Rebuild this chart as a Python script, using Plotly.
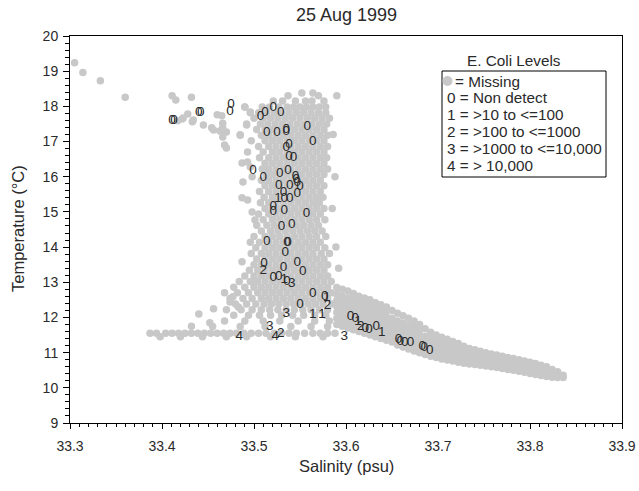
import plotly.graph_objects as go

TITLE = "25 Aug 1999"
X_TITLE = "Salinity (psu)"
Y_TITLE = "Temperature (°C)"
LEGEND_TITLE = "E. Coli Levels"
LEGEND_LINES = ["= Missing", "0 = Non detect", "1 = >10 to <=100", "2 = >100 to <=1000",
                "3 = >1000 to <=10,000", "4 = > 10,000"]
X_TICKS = [33.3, 33.4, 33.5, 33.6, 33.7, 33.8, 33.9]
Y_TICKS = [9, 10, 11, 12, 13, 14, 15, 16, 17, 18, 19, 20]

# "Missing" samples, rows: temperature, salinities (thousandths above 33)
missing_rows = [
    (18.38, "552 564"),
    (18.30, "537 570 590"),
    (18.15, "521 531 545 556 563 576"),
    (17.98, "490 509 517 527 536 543 550 557 564 571 578"),
    (17.82, "496 505 514 522 530 538 546 554 562 570 578"),
    (17.66, "500 510 518 526 534 542 550 558 566 574 582"),
    (17.50, "492 507 515 523 531 539 547 555 563 571 579"),
    (17.34, "503 512 520 528 536 544 552 560 568 576"),
    (17.18, "485 508 516 524 532 540 548 556 564 572 580"),
    (17.02, "497 512 520 528 536 544 552 560 568 576"),
    (16.86, "505 516 524 532 540 548 556 564 572 580"),
    (16.70, "510 520 528 536 544 552 560 568 576"),
    (16.54, "506 516 524 532 540 548 556 564 572 579"),
    (16.38, "512 520 528 536 544 552 560 568 576"),
    (16.22, "509 516 524 532 540 548 556 564 572 580"),
    (16.06, "513 520 528 536 544 552 560 568 576"),
    (15.90, "508 516 524 532 540 548 556 564 572"),
    (15.74, "512 520 528 536 544 552 560 568 576"),
    (15.58, "506 516 524 532 540 548 556 564 572"),
    (15.42, "511 520 528 536 544 552 560 568 575"),
    (15.26, "507 516 524 532 540 548 556 564 571"),
    (15.10, "512 520 528 536 544 552 560 568 576"),
    (14.94, "505 516 524 532 540 548 556 564 572"),
    (14.78, "510 520 528 536 544 552 560 568 577"),
    (14.62, "503 514 522 530 538 546 554 562 570"),
    (14.46, "508 518 526 534 542 550 558 566 574"),
    (14.30, "500 512 520 528 536 544 552 560 568 578"),
    (14.14, "496 506 516 524 532 540 548 556 564 572"),
    (13.98, "502 512 520 528 536 544 552 560 568 577"),
    (13.82, "497 508 516 524 532 540 548 556 564 573 582"),
    (13.66, "503 512 520 528 536 544 552 560 568 576"),
    (13.50, "500 508 516 524 532 540 548 556 564 572 580"),
    (13.34, "495 504 512 520 528 536 544 552 560 568 576"),
    (13.18, "490 500 508 516 524 532 540 548 556 564 572 580"),
    (13.02, "484 496 504 512 520 528 536 544 552 560 568 576 584"),
    (12.86, "478 490 500 508 516 524 532 540 548 556 564 572 580"),
    (12.70, "468 482 494 504 512 520 528 536 544 552 560 568 576 584"),
    (12.54, "474 488 498 508 516 524 532 540 548 556 564 572 580"),
    (12.38, "480 492 502 511 519 527 535 543 551 559 567 575 584"),
    (12.22, "470 486 498 508 517 526 535 544 553 562 571 580"),
    (12.06, "478 494 506 518 530 542 554 566 578"),
    (11.90, "468 490 510 528 548 566 582"),
    (11.74, "455 485 512 540 562 580"),
    (11.55, "387 394 404 411 418 425 432 439 446 453 460 467 474 481 489 497 505 513 522 530 538 546 555 564 572 580 588"),
    (11.45, "398 420 444 470 492 518 545 575"),
]

# scattered "Missing" samples outside the main column (salinity, temperature)
missing_scatter_sal = [33.305, 33.314, 33.333, 33.360, 33.411, 33.415, 33.432, 33.417, 33.423, 33.428,
                       33.433, 33.445, 33.454, 33.460, 33.466, 33.463, 33.470, 33.490, 33.496, 33.492,
                       33.422, 33.434, 33.456, 33.465, 33.466, 33.466, 33.468, 33.470, 33.485, 33.493,
                       33.487, 33.493, 33.496, 33.498, 33.488, 33.487, 33.493, 33.498, 33.501, 33.487,
                       33.498, 33.477, 33.474, 33.483, 33.440, 33.452, 33.432, 33.456, 33.586, 33.588,
                       33.585, 33.589, 33.592]
missing_scatter_temp = [19.24, 18.96, 18.73, 18.26, 18.30, 18.18, 18.26, 17.59, 17.67, 17.78,
                        17.56, 17.47, 17.39, 17.76, 17.52, 17.30, 17.27, 17.98, 17.84, 17.47,
                        17.64, 17.61, 17.33, 17.73, 17.39, 17.13, 16.90, 16.82, 17.19, 16.70,
                        16.39, 16.42, 16.28, 16.00, 15.85, 15.40, 15.34, 15.00, 14.77, 13.58,
                        13.01, 12.59, 12.44, 12.30, 12.10, 11.85, 11.75, 12.25, 17.20, 16.00,
                        15.10, 14.00, 13.40]

# tail of "Missing" samples: salinity (thousandths above 33), temperatures
missing_tail = [
    (590, "11.80 11.97 12.14 12.31 12.48 12.65 12.85"),
    (596, "11.75 11.92 12.09 12.26 12.43 12.60 12.80"),
    (602, "11.70 11.87 12.04 12.21 12.38 12.55 12.75"),
    (608, "11.65 11.82 11.99 12.16 12.33 12.50 12.68"),
    (614, "11.60 11.77 11.94 12.11 12.28 12.45 12.60"),
    (620, "11.55 11.72 11.89 12.06 12.23 12.40 12.55"),
    (626, "11.50 11.67 11.84 12.01 12.18 12.35 12.50"),
    (632, "11.45 11.62 11.79 11.96 12.13 12.30 12.42"),
    (638, "11.40 11.57 11.74 11.91 12.08 12.25 12.36"),
    (644, "11.35 11.52 11.69 11.86 12.03 12.20 12.30"),
    (650, "11.30 11.47 11.64 11.81 11.98 12.20"),
    (656, "11.22 11.39 11.56 11.73 11.90 12.12"),
    (662, "11.16 11.33 11.50 11.67 11.84 12.05"),
    (668, "11.10 11.27 11.44 11.61 11.78 11.98"),
    (674, "11.05 11.22 11.39 11.56 11.72 11.90"),
    (680, "11.00 11.17 11.34 11.51 11.66 11.80"),
    (686, "10.95 11.12 11.29 11.46 11.68"),
    (692, "10.90 11.07 11.24 11.41 11.58"),
    (698, "10.86 11.03 11.20 11.36 11.50"),
    (704, "10.82 10.99 11.16 11.30 11.44"),
    (710, "10.79 10.96 11.12 11.26 11.38"),
    (716, "10.76 10.92 11.08 11.22 11.32"),
    (722, "10.73 10.89 11.05 11.18 11.26"),
    (728, "10.70 10.86 11.02 11.18"),
    (734, "10.68 10.83 10.98 11.12"),
    (740, "10.66 10.80 10.94 11.08"),
    (746, "10.64 10.78 10.92 11.04"),
    (752, "10.62 10.76 10.90 11.00"),
    (758, "10.60 10.74 10.86 10.96"),
    (764, "10.58 10.72 10.84 10.93"),
    (770, "10.55 10.69 10.82 10.90"),
    (776, "10.52 10.66 10.78 10.86"),
    (782, "10.50 10.63 10.75 10.83"),
    (788, "10.47 10.60 10.72 10.80"),
    (794, "10.44 10.57 10.69 10.76"),
    (800, "10.41 10.54 10.66 10.73"),
    (806, "10.38 10.51 10.62 10.69"),
    (812, "10.35 10.48 10.58 10.64"),
    (818, "10.32 10.45 10.55 10.60"),
    (824, "10.30 10.42 10.52"),
    (830, "10.29 10.38 10.46"),
    (836, "10.29 10.36"),
]

# E. coli samples: salinity, temperature, level
ecoli_sal = [33.411, 33.413, 33.440, 33.442, 33.475, 33.474, 33.507, 33.512, 33.521, 33.529,
             33.514, 33.525, 33.535, 33.535, 33.558, 33.564, 33.535, 33.538, 33.538, 33.543,
             33.499, 33.510, 33.528, 33.537, 33.545, 33.546, 33.547, 33.550, 33.539, 33.527,
             33.532, 33.547, 33.526, 33.533, 33.539, 33.521, 33.521, 33.533, 33.557, 33.530,
             33.541, 33.514, 33.536, 33.537, 33.534, 33.511, 33.510, 33.532, 33.547, 33.553,
             33.521, 33.527, 33.533, 33.536, 33.541, 33.564, 33.577, 33.579, 33.580, 33.550,
             33.535, 33.564, 33.574, 33.605, 33.610, 33.613, 33.616, 33.621, 33.625, 33.633,
             33.639, 33.657, 33.659, 33.664, 33.670, 33.683, 33.685, 33.691, 33.517, 33.523,
             33.529, 33.484, 33.598]
ecoli_temp = [17.59, 17.59, 17.81, 17.81, 18.04, 17.84, 17.70, 17.81, 17.95, 17.81,
              17.24, 17.24, 17.33, 17.28, 17.41, 16.99, 16.82, 16.90, 16.56, 16.53,
              16.16, 15.97, 16.08, 16.16, 15.99, 15.91, 15.82, 15.71, 15.74, 15.74,
              15.54, 15.51, 15.37, 15.37, 15.37, 15.14, 15.00, 15.03, 14.94, 14.57,
              14.63, 14.15, 14.12, 14.12, 13.84, 13.52, 13.32, 13.41, 13.55, 13.30,
              13.13, 13.15, 13.07, 13.01, 12.95, 12.67, 12.59, 12.56, 12.33, 12.36,
              12.10, 12.07, 12.07, 12.02, 11.96, 11.88, 11.73, 11.68, 11.65, 11.73,
              11.56, 11.36, 11.31, 11.28, 11.28, 11.16, 11.14, 11.05, 11.73, 11.45,
              11.53, 11.45, 11.45]
ecoli_level = ["0", "0", "0", "0", "0", "0", "0", "0", "0", "0",
               "0", "0", "0", "0", "0", "0", "0", "0", "0", "0",
               "0", "0", "0", "0", "0", "0", "0", "0", "0", "0",
               "0", "0", "1", "0", "0", "0", "0", "0", "0", "0",
               "0", "0", "0", "0", "0", "0", "2", "0", "0", "0",
               "0", "0", "1", "0", "3", "0", "0", "1", "2", "0",
               "3", "1", "1", "0", "0", "1", "2", "0", "0", "0",
               "1", "0", "0", "0", "0", "0", "0", "0", "3", "4",
               "2", "4", "3"]

# ---- build the Missing series ----
sal_missing, temp_missing = [], []
for t, row in missing_rows:
    for v in row.split():
        sal_missing.append(33 + int(v) / 1000)
        temp_missing.append(t)
sal_missing += missing_scatter_sal
temp_missing += missing_scatter_temp
for s, col in missing_tail:
    for v in col.split():
        sal_missing.append(33 + s / 1000)
        temp_missing.append(float(v))

FONT = "Liberation Sans, Arial, sans-serif"
GRAY = "rgb(200,200,200)"
TXT = "#2a2a2a"

fig = go.Figure()
fig.add_trace(go.Scatter(x=sal_missing, y=temp_missing, mode="markers",
                         marker=dict(size=7.5, color=GRAY, line=dict(width=0)),
                         hoverinfo="skip", cliponaxis=False))
fig.add_trace(go.Scatter(x=ecoli_sal, y=ecoli_temp, mode="text", text=ecoli_level,
                         textposition="middle center",
                         textfont=dict(family=FONT, size=13.5, color=TXT), hoverinfo="skip"))

L, R, T, B = 70, 17, 36, 68
W, H = 639, 491
PW, PH = W - L - R, H - T - B


def px(x):
    return (x - L) / PW


def py(y):
    return (H - B - y) / PH


ann = [
    dict(text=TITLE, x=px(346), y=py(15), font=dict(size=18, color=TXT, family=FONT)),
    dict(text=X_TITLE, x=px(346), y=py(466), font=dict(size=16.5, color=TXT, family=FONT)),
    dict(text=Y_TITLE, x=px(18), y=py(229), textangle=-90, font=dict(size=16.5, color=TXT, family=FONT)),
    dict(text=LEGEND_TITLE, x=px(514), y=py(60), font=dict(size=15.3, color=TXT, family=FONT)),
]
line_y = [81, 97.8, 114.6, 131.4, 148.2, 165]
for i, (txt, yy) in enumerate(zip(LEGEND_LINES, line_y)):
    ann.append(dict(text=txt, x=px(453 if i == 0 else 445), y=py(yy), xanchor="left",
                    font=dict(size=15.3, color=TXT, family=FONT)))
for a in ann:
    a.update(xref="paper", yref="paper", showarrow=False, yanchor="middle",
             xanchor=a.get("xanchor", "center"))

shapes = [
    dict(type="rect", xref="paper", yref="paper", x0=px(442), x1=px(606), y0=py(177), y1=py(71),
         line=dict(color="black", width=1), fillcolor="rgba(0,0,0,0)"),
    dict(type="circle", xref="paper", yref="paper", x0=px(442.5), x1=px(452.5), y0=py(86), y1=py(76),
         line=dict(width=0), fillcolor=GRAY),
]

fig.update_layout(
    width=W, height=H, margin=dict(l=L, r=R, t=T, b=B, pad=0, autoexpand=False),
    plot_bgcolor="white", paper_bgcolor="white", showlegend=False,
    font=dict(family=FONT, size=14, color=TXT),
    annotations=ann, shapes=shapes,
    xaxis=dict(range=[33.3, 33.9], tickvals=X_TICKS, ticktext=[f"{v:.1f}" for v in X_TICKS],
               automargin=False, ticklabelstandoff=5,
               ticks="outside", ticklen=5, tickcolor="black", tickwidth=1,
               minor=dict(dtick=0.01, tick0=33.3, ticks="outside", ticklen=3, tickcolor="black"),
               showline=True, linecolor="black", linewidth=1, mirror=True,
               showgrid=False, zeroline=False, tickfont=dict(size=14, color=TXT)),
    yaxis=dict(range=[9, 20], tickvals=Y_TICKS, ticks="outside", ticklen=6, tickcolor="black",
               automargin=False, ticklabelstandoff=2,
               minor=dict(dtick=0.2, tick0=9, ticks="outside", ticklen=4, tickcolor="black"),
               showline=True, linecolor="black", linewidth=1, mirror=True,
               showgrid=False, zeroline=False, tickfont=dict(size=14, color=TXT)),
)

fig.write_html("out.html")
